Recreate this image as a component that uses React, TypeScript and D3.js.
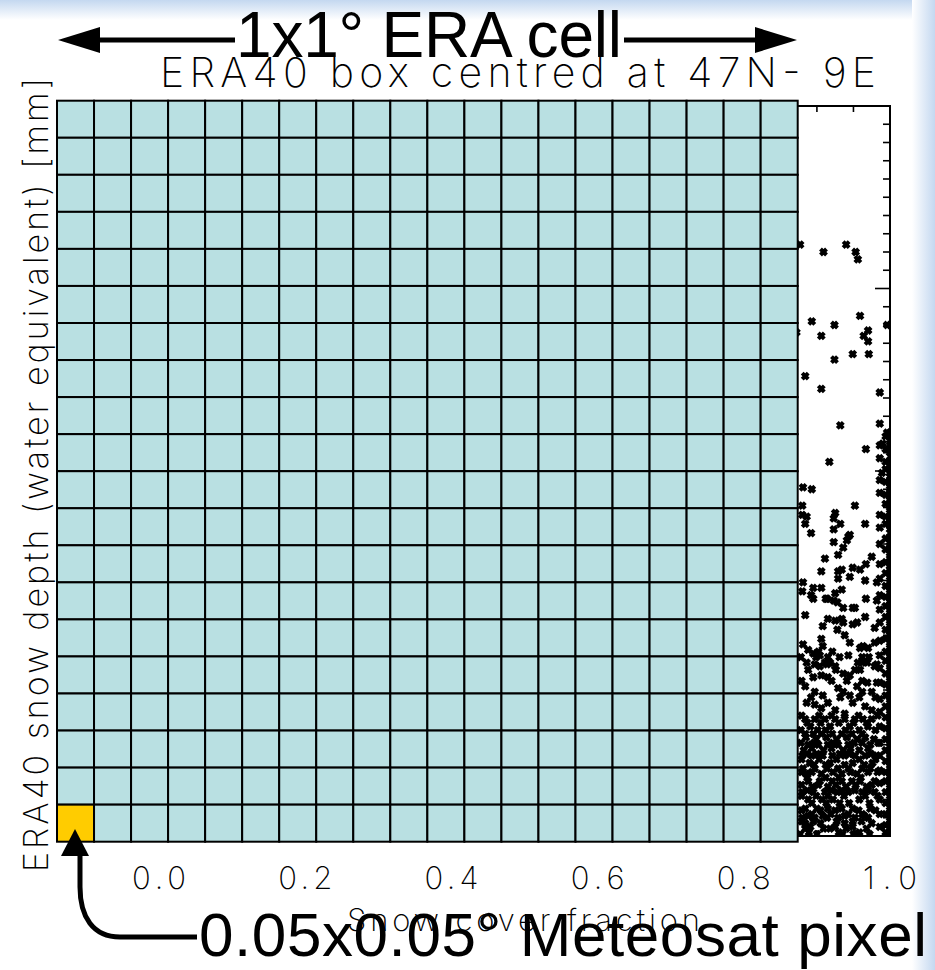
import React, { useEffect, useRef } from 'react';
import * as d3 from 'd3';

// x ticks of the scatter plot
const xTickValues = [0.0, 0.2, 0.4, 0.6, 0.8, 1.0];
const xTickLabels = ['0.0', '0.2', '0.4', '0.6', '0.8', '1.0'];

// [snow cover fraction, snow depth mm] -- only the part right of the overlay is readable
const sparsePoints: [number, number][] = [
  [0.877, 324], [0.909, 320], [0.94, 324], [0.953, 320], [0.956, 316],
  [0.959, 285], [0.893, 282], [0.924, 280], [0.906, 274], [0.964, 274], [0.97, 277], [0.97, 271],
  [0.996, 280], [0.872, 276], [0.949, 264], [0.971, 264], [0.924, 261], [0.884, 252], [0.906, 245],
  [0.986, 243], [0.932, 225], [0.996, 221], [0.967, 212], [0.99, 215], [0.917, 205], [0.989, 199]
];

const midPoints: [number, number][] = [
  [0.881, 191], [0.893, 190], [0.952, 181], [0.88, 181], [0.88, 176], [0.886, 175], [0.884, 171],
  [0.892, 166], [0.925, 177], [0.923, 174], [0.932, 171], [0.966, 171], [0.923, 168], [0.943, 164],
  [0.945, 165], [0.941, 162], [0.923, 161], [0.936, 158], [0.929, 154], [0.975, 153], [0.911, 152],
  [0.906, 145], [0.929, 145], [0.929, 141], [0.934, 146], [0.949, 147], [0.959, 146], [0.967, 149],
  [0.945, 142], [0.966, 140], [0.982, 139], [0.881, 139], [0.88, 134], [0.895, 136], [0.906, 136],
  [0.892, 132], [0.934, 135], [0.925, 133], [0.923, 129], [0.928, 128], [0.912, 130], [0.967, 130],
  [0.982, 129], [0.949, 125], [0.936, 125], [0.884, 121], [0.915, 119], [0.925, 118], [0.934, 119],
  [0.936, 117], [0.908, 115], [0.928, 113], [0.949, 116], [0.966, 120], [0.979, 114], [0.938, 110],
  [0.906, 108], [0.908, 104], [0.945, 106], [0.979, 106], [0.881, 105], [0.888, 102], [0.963, 104],
  [0.959, 103], [0.97, 103], [0.895, 100], [0.904, 99], [0.943, 99], [0.915, 98], [0.918, 95],
  [0.914, 94], [0.886, 95], [0.956, 95], [0.962, 95], [0.979, 93], [0.904, 93], [0.895, 130],
  [0.914, 130], [0.952, 125], [0.955, 117], [0.902, 101], [0.921, 101], [0.962, 98], [0.969, 95],
  [0.897, 94], [0.911, 95], [0.925, 93], [0.982, 94], [0.936, 89], [0.945, 88], [0.952, 91],
  [0.895, 87], [0.906, 88], [0.915, 87], [0.969, 84], [0.982, 84], [0.884, 82], [0.897, 79],
  [0.908, 77], [0.929, 81], [0.936, 79], [0.955, 82], [0.962, 79], [0.975, 79], [0.886, 73],
  [0.897, 72], [0.906, 70], [0.915, 73], [0.925, 69], [0.945, 77], [0.949, 73], [0.966, 71],
  [0.975, 69], [0.938, 67]
];

const densePoints: [number, number][] = [
  [0.884, 64], [0.897, 64], [0.911, 64], [0.925, 64], [0.938, 64], [0.952, 64], [0.963, 64], [0.975, 64],
  [0.891, 60], [0.918, 60], [0.945, 60], [0.97, 60],
  [0.884, 56], [0.895, 56], [0.906, 56], [0.921, 56], [0.934, 56], [0.948, 56], [0.962, 56],
  [0.899, 53], [0.927, 53], [0.955, 53], [0.978, 53],
  [0.888, 50], [0.902, 50], [0.915, 50], [0.929, 50], [0.943, 50], [0.973, 50],
  [0.882, 47], [0.909, 47], [0.936, 47], [0.958, 47],
  [0.88, 44], [0.893, 44], [0.908, 44], [0.921, 44], [0.938, 44], [0.952, 44], [0.966, 44], [0.982, 44],
  [0.89, 40], [0.918, 40], [0.949, 40], [0.976, 40],
  [0.881, 37], [0.897, 37], [0.914, 37], [0.929, 37], [0.943, 37], [0.962, 37], [0.973, 37],
  [0.885, 34], [0.906, 34], [0.934, 34], [0.955, 34],
  [0.888, 30], [0.904, 30], [0.921, 30], [0.934, 30], [0.948, 30], [0.959, 30], [0.979, 30],
  [0.894, 27], [0.915, 27], [0.94, 27], [0.968, 27],
  [0.88, 24], [0.895, 24], [0.911, 24], [0.928, 24], [0.943, 24], [0.962, 24], [0.979, 24],
  [0.888, 20], [0.907, 20], [0.922, 20], [0.958, 20],
  [0.884, 15], [0.9, 15], [0.915, 15], [0.934, 15], [0.949, 15], [0.973, 15],
  [0.893, 12], [0.919, 12], [0.943, 12], [0.962, 12],
  [0.88, 10], [0.897, 10], [0.914, 10], [0.929, 10], [0.952, 10], [0.97, 10],
  [0.884, 7], [0.905, 7], [0.938, 7], [0.975, 7],
  [0.891, 5], [0.925, 5], [0.949, 5],
  [0.889, 2], [0.93, 2], [0.958, 2]
];

const crowdPoints: [number, number][] = [
  [0.878, 98], [0.899, 98], [0.931, 98], [0.971, 98],
  [0.888, 91], [0.926, 91], [0.959, 91],
  [0.879, 85], [0.92, 85], [0.941, 85], [0.962, 85],
  [0.892, 76], [0.932, 76], [0.958, 76], [0.98, 76],
  [0.879, 66], [0.903, 66], [0.92, 66], [0.957, 66], [0.983, 66],
  [0.887, 62], [0.905, 62], [0.93, 62], [0.95, 62], [0.968, 62],
  [0.878, 58], [0.901, 58], [0.912, 58], [0.939, 58], [0.958, 58], [0.98, 58],
  [0.885, 54], [0.913, 54], [0.941, 54], [0.966, 54],
  [0.878, 51], [0.896, 51], [0.922, 51], [0.951, 51], [0.962, 51], [0.984, 51],
  [0.893, 48], [0.92, 48], [0.946, 48], [0.97, 48],
  [0.886, 45], [0.9, 45], [0.931, 45], [0.944, 45], [0.974, 45],
  [0.879, 42], [0.903, 42], [0.927, 42], [0.958, 42], [0.98, 42],
  [0.896, 39], [0.912, 39], [0.938, 39], [0.965, 39],
  [0.879, 35], [0.893, 35], [0.922, 35], [0.946, 35], [0.97, 35], [0.983, 35],
  [0.887, 32], [0.912, 32], [0.93, 32], [0.96, 32],
  [0.879, 28], [0.902, 28], [0.926, 28], [0.953, 28], [0.975, 28],
  [0.887, 25], [0.92, 25], [0.934, 25], [0.952, 25], [0.97, 25],
  [0.879, 22], [0.899, 22], [0.915, 22], [0.937, 22], [0.966, 22], [0.983, 22],
  [0.893, 18], [0.913, 18], [0.931, 18], [0.944, 18], [0.972, 18],
  [0.879, 14], [0.905, 14], [0.925, 14], [0.957, 14], [0.98, 14],
  [0.888, 11], [0.908, 11], [0.938, 11], [0.965, 11],
  [0.879, 8], [0.895, 8], [0.927, 8], [0.949, 8], [0.961, 8],
  [0.884, 4], [0.909, 4], [0.918, 4], [0.94, 4], [0.968, 4],
  [0.877, 1], [0.9, 1], [0.935, 1], [0.95, 1], [0.972, 1]
];

// points sitting at full snow cover (fraction 1.0) and just below it
const fullCoverDepths = [
  221, 217, 214, 210, 206, 203, 199, 197, 193, 190, 186, 184, 180, 177, 174, 170, 168, 164, 161,
  158, 155, 152, 148, 146, 142, 139, 136, 133, 130, 127, 124, 121, 118, 115, 112, 109, 106, 103,
  100, 97, 94, 91, 88, 85, 82, 79, 76, 73, 70, 67, 64, 61, 58, 55, 52, 49, 46, 43, 40, 37, 34,
  31, 28, 25, 22, 19, 16, 13, 10, 7, 4, 1
];
const edgeDepths = [
  219, 212, 205, 201, 194, 187, 182, 175, 171, 163, 157, 150, 144, 137, 131, 126, 120, 113, 108,
  101, 96, 89, 83, 77, 71, 65, 59, 53, 47, 41, 35, 30, 24, 18, 12, 6, 2
];
const nearFullDepths = [
  226, 214, 207, 195, 188, 176, 169, 160, 149, 141, 132, 124, 117, 107, 99, 92, 84, 75, 68, 60,
  51, 44, 36, 29, 20, 12, 5
];

const title = 'ERA40 box centred at 47N- 9E';
const xTitle = 'Snow cover fraction';
const yTitle = 'ERA40 snow depth (water equivalent) [mm]';
const cellLabel = '1x1\u00b0 ERA cell';
const pixelLabel = '0.05x0.05\u00b0 Meteosat pixel';
const gridCount = 20;

const hershey = "Inter, 'DejaVu Sans', sans-serif";
const arial = "'Liberation Sans', Arial, sans-serif";

export default function App() {
  const ref = useRef<SVGSVGElement>(null);

  useEffect(() => {
    const svg = d3.select(ref.current);
    svg.selectAll('*').remove();

    const W = 935;
    const H = 970;

    // slide background
    const defs = svg.append('defs');
    const gTop = defs.append('linearGradient').attr('id', 'bgTop')
      .attr('x1', 0).attr('y1', 0).attr('x2', 0).attr('y2', 1);
    gTop.append('stop').attr('offset', 0).attr('stop-color', '#c4d8f0');
    gTop.append('stop').attr('offset', 1).attr('stop-color', '#ffffff');
    const gRight = defs.append('linearGradient').attr('id', 'bgRight')
      .attr('x1', 0).attr('y1', 0).attr('x2', 1).attr('y2', 0);
    gRight.append('stop').attr('offset', 0).attr('stop-color', '#ffffff');
    gRight.append('stop').attr('offset', 1).attr('stop-color', '#c4d8f0');
    svg.append('rect').attr('width', W).attr('height', H).attr('fill', '#fff');
    svg.append('rect').attr('width', W).attr('height', 20).attr('fill', 'url(#bgTop)');
    svg.append('rect').attr('x', 912).attr('width', 23).attr('height', H).attr('fill', 'url(#bgRight)');

    const x = d3.scaleLinear().domain([-0.1, 1.0]).range([86, 890]);
    const y = d3.scaleLinear().domain([0, 400]).range([836, 106]);

    defs.append('clipPath').attr('id', 'plotClip')
      .append('rect').attr('x', 86).attr('y', 106).attr('width', 804).attr('height', 730);

    const plot = svg.append('g');

    // scatter, thick X symbols
    const marker = 'M-3,-3L3,3M-3,3L3,-3';
    const pts: [number, number][] = [
      ...sparsePoints,
      ...midPoints,
      ...densePoints,
      ...crowdPoints,
      ...nearFullDepths.map(d => [0.986, d] as [number, number]),
      ...edgeDepths.map(d => [0.994, d] as [number, number]),
      ...fullCoverDepths.map(d => [1.0, d] as [number, number])
    ];
    plot.append('g').attr('clip-path', 'url(#plotClip)')
      .selectAll('path')
      .data(pts)
      .enter().append('path')
      .attr('transform', d => `translate(${x(d[0])},${y(d[1])})`)
      .attr('d', marker)
      .attr('stroke', '#000')
      .attr('stroke-width', 4)
      .attr('fill', 'none');

    // ticks inside the frame
    const xMinor = d3.range(-0.1, 1.0001, 0.05);
    const yMinor = d3.range(0, 400.01, 10);
    const tk = plot.append('g').attr('stroke', '#000').attr('stroke-width', 1.6);
    xMinor.forEach(v => {
      const major = Math.abs(Math.round(v * 100) % 20) === 0;
      const len = major ? 14 : 6;
      tk.append('line').attr('x1', x(v)).attr('x2', x(v)).attr('y1', 836).attr('y2', 836 - len);
      tk.append('line').attr('x1', x(v)).attr('x2', x(v)).attr('y1', 106).attr('y2', 106 + len);
    });
    yMinor.forEach(v => {
      const len = v % 100 === 0 ? 15 : 7;
      tk.append('line').attr('x1', 890).attr('x2', 890 - len).attr('y1', y(v)).attr('y2', y(v));
      tk.append('line').attr('x1', 86).attr('x2', 86 + len).attr('y1', y(v)).attr('y2', y(v));
    });

    plot.append('rect')
      .attr('x', 86).attr('y', 106).attr('width', 804).attr('height', 730)
      .attr('fill', 'none').attr('stroke', '#000').attr('stroke-width', 2);

    // tick labels and titles
    plot.selectAll('text.xt')
      .data(xTickValues)
      .enter().append('text')
      .attr('class', 'xt')
      .attr('x', d => x(d))
      .attr('y', 889)
      .attr('text-anchor', 'middle')
      .style('font-family', hershey)
      .style('font-weight', 250)
      .style('font-size', '31px')
      .attr('textLength', 54)
      .text((d, i) => xTickLabels[i]);

    plot.append('text')
      .attr('x', 347).attr('y', 931)
      .style('font-family', hershey).style('font-weight', 250).style('font-size', '31px')
      .attr('textLength', 353)
      .text(xTitle);

    plot.append('text')
      .attr('transform', 'translate(48,475) rotate(-90)')
      .attr('text-anchor', 'middle')
      .style('font-family', hershey).style('font-weight', 250).style('font-size', '34px')
      .attr('textLength', 794)
      .text(yTitle);

    plot.append('text')
      .attr('x', 160).attr('y', 87)
      .style('font-family', hershey).style('font-weight', 250).style('font-size', '41px')
      .attr('textLength', 716)
      .text(title);

    // 20 x 20 Meteosat pixels covering the ERA cell
    const gx = d3.scaleLinear().domain([0, gridCount]).range([57, 797.7]);
    const gy = d3.scaleLinear().domain([0, gridCount]).range([100.7, 841.7]);
    const cells = d3.range(gridCount * gridCount).map(i => ({ c: i % gridCount, r: Math.floor(i / gridCount) }));
    svg.append('g')
      .selectAll('rect')
      .data(cells)
      .enter().append('rect')
      .attr('x', d => gx(d.c))
      .attr('y', d => gy(d.r))
      .attr('width', gx(1) - gx(0))
      .attr('height', gy(1) - gy(0))
      .attr('fill', d => (d.c === 0 && d.r === gridCount - 1 ? '#ffcc00' : '#b9e0e2'))
      .attr('stroke', '#000')
      .attr('stroke-width', 2);

    // annotations
    const ann = svg.append('g');
    ann.append('text')
      .attr('x', 236).attr('y', 57)
      .style('font-family', arial).style('font-size', '64px')
      .attr('textLength', 386)
      .text(cellLabel);
    ann.append('line').attr('x1', 95).attr('x2', 235).attr('y1', 40).attr('y2', 40)
      .attr('stroke', '#000').attr('stroke-width', 5);
    ann.append('path').attr('d', 'M58,40L100,27L100,53Z').attr('fill', '#000');
    ann.append('line').attr('x1', 624).attr('x2', 760).attr('y1', 40).attr('y2', 40)
      .attr('stroke', '#000').attr('stroke-width', 5);
    ann.append('path').attr('d', 'M797,40L755,27L755,53Z').attr('fill', '#000');

    ann.append('path')
      .attr('d', 'M197,937L120,937C93,937 80,917 80,887L80,852')
      .attr('fill', 'none').attr('stroke', '#000').attr('stroke-width', 5);
    ann.append('path').attr('d', 'M75,829L61,856L89,856Z').attr('fill', '#000');
    ann.append('text')
      .attr('x', 199).attr('y', 956)
      .style('font-family', arial).style('font-size', '62px')
      .attr('textLength', 728)
      .text(pixelLabel);
  }, []);

  return (
    <svg ref={ref} width={935} height={970} style={{ position: 'absolute', left: 0, top: 0 }} />
  );
}
